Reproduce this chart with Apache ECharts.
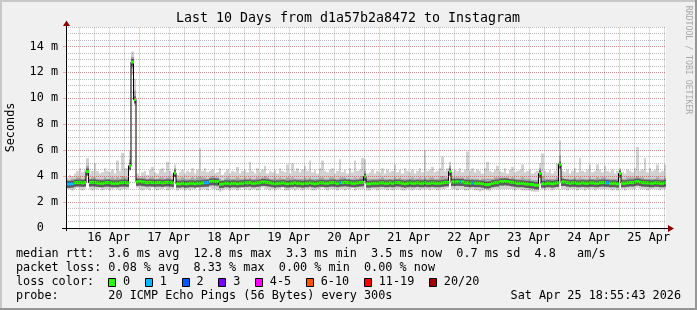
<!DOCTYPE html>
<html><head><meta charset="utf-8">
<script src="https://cdn.jsdelivr.net/npm/echarts@6/dist/echarts.min.js"></script>
<style>html,body{margin:0;padding:0;background:#f0f0f0}#c{width:697px;height:310px}</style>
</head><body><div id="c"></div>
<script>
// ---------- data (hourly samples, 10 days ending Sat Apr 25 18:55:43 2026) ----------
const titleText = 'Last 10 Days from d1a57b2a8472 to Instagram';
const monthNames = ['Jan','Feb','Mar','Apr','May','Jun','Jul','Aug','Sep','Oct','Nov','Dec'];
const endStamp = [2026, 3, 25, 18, 55, 43];
const tickDays = [16, 17, 18, 19, 20, 21, 22, 23, 24, 25];   // day labels (April)
const minorHours = [6, 12, 18];                                // minor grid hours
const yUnitTicks = { zero: '0  ', unit: ' m' };

// median rtt (ms), one value per hour
const median = [
 3.40,3.40,3.42,3.48,3.50,3.50,3.48,3.50,4.35,3.50,3.52,3.50,3.48,3.45,3.45,3.48,3.50,3.48,3.45,3.45,3.45,3.48,3.50,3.50,
 3.48,4.80,12.80,9.90,3.56,3.58,3.55,3.52,3.50,3.52,3.50,3.48,3.50,3.50,3.48,3.50,3.52,3.50,3.48,4.25,3.42,3.42,3.45,3.42,
 3.42,3.45,3.45,3.42,3.45,3.45,3.48,3.48,3.50,3.58,3.60,3.58,3.58,3.38,3.40,3.45,3.45,3.42,3.45,3.45,3.42,3.45,3.45,3.48,
 3.48,3.50,3.45,3.45,3.48,3.50,3.55,3.55,3.52,3.48,3.45,3.42,3.45,3.45,3.48,3.45,3.42,3.45,3.45,3.48,3.45,3.45,3.42,3.45,
 3.45,3.48,3.45,3.42,3.45,3.48,3.48,3.45,3.45,3.48,3.50,3.48,3.45,3.48,3.50,3.52,3.50,3.48,3.45,3.45,3.48,3.50,3.52,3.95,
 3.42,3.42,3.45,3.45,3.45,3.48,3.48,3.45,3.45,3.48,3.45,3.48,3.50,3.48,3.45,3.42,3.45,3.48,3.45,3.45,3.48,3.45,3.45,3.48,
 3.45,3.45,3.48,3.45,3.45,3.45,3.48,3.50,3.52,4.35,3.55,3.55,3.56,3.55,3.55,3.48,3.48,3.45,3.48,3.45,3.45,3.45,3.42,3.35,
 3.35,3.38,3.45,3.48,3.50,3.58,3.58,3.60,3.58,3.55,3.52,3.48,3.45,3.45,3.45,3.42,3.40,3.38,3.35,3.30,3.30,4.20,3.42,3.42,
 3.45,3.45,3.42,3.45,3.48,4.90,3.55,3.55,3.50,3.45,3.48,3.48,3.45,3.45,3.48,3.45,3.45,3.48,3.48,3.45,3.45,3.48,3.50,3.48,
 3.48,3.45,3.45,3.45,3.42,4.20,3.45,3.45,3.48,3.50,3.50,3.55,3.58,3.55,3.50,3.48,3.48,3.45,3.45,3.48,3.48,3.45,3.45,3.48
];
// loss bucket per hour (0 = no loss, 1 = one lost ping)
const lossBucket = [
 1,1,1,0,0,0,0,0,0,0,0,0,0,0,0,0,0,0,0,0,0,0,0,0,
 0,0,0,0,0,0,0,0,0,0,0,0,0,0,0,0,0,0,0,0,0,0,0,0,
 0,0,0,0,0,0,0,1,1,0,0,0,0,0,0,0,0,0,0,0,0,0,0,0,
 0,0,0,0,0,0,0,0,0,0,0,0,0,0,0,0,0,0,0,0,0,0,0,0,
 0,0,0,0,0,0,0,0,0,0,0,0,0,1,0,0,0,0,0,0,0,0,0,0,
 0,0,0,0,0,0,0,0,0,0,0,0,0,0,0,0,0,0,0,0,0,0,0,0,
 0,0,0,0,0,0,0,0,0,0,0,0,0,1,0,0,0,0,1,0,0,0,0,0,
 0,0,0,0,0,0,0,0,0,0,0,0,0,0,0,0,0,0,0,0,0,0,0,0,
 0,0,0,0,0,0,0,0,0,0,0,0,0,0,0,0,0,0,0,0,0,0,0,0,
 1,0,0,0,0,0,0,0,0,0,0,0,0,0,0,0,0,0,0,0,0,0,0,0
];
// smoke: fastest ping, lower spread, upper spread, slowest ping (ms)
const pingMin = [
 3.0,3.0,2.9,3.0,3.1,3.0,2.9,3.0,4.2,3.0,2.9,3.0,3.0,3.1,2.9,3.0,3.0,2.9,3.0,3.1,3.0,2.9,3.0,3.0,
 3.0,4.4,11.8,9.5,3.1,3.0,2.9,3.0,3.0,2.9,3.1,3.0,2.9,3.0,3.0,3.1,2.9,3.0,3.0,4.0,2.9,3.0,3.0,2.9,
 3.0,2.9,3.0,3.0,3.1,2.9,3.0,3.0,2.9,3.1,3.0,3.0,2.9,2.8,2.9,3.0,3.0,2.9,3.0,3.0,2.9,3.0,3.1,3.0,
 3.0,2.9,3.0,3.0,2.9,3.0,3.1,3.0,3.0,2.9,3.0,2.9,3.0,3.0,3.1,2.9,2.9,3.0,3.0,2.9,3.0,3.0,2.9,3.0,
 3.0,3.0,2.9,2.9,3.0,3.0,3.1,3.0,2.9,3.0,3.0,3.0,2.9,3.0,3.0,2.9,3.0,3.0,3.1,2.9,3.0,3.0,3.0,3.7,
 2.9,2.9,3.0,3.0,2.9,3.0,3.0,3.0,2.9,3.0,2.9,3.0,3.0,3.0,2.9,2.9,3.0,3.0,2.9,3.0,3.0,2.9,3.0,3.0,
 3.0,2.9,3.0,3.0,2.9,3.0,3.0,3.0,3.1,4.0,3.0,3.0,2.9,3.0,3.0,2.9,2.9,3.0,3.0,2.9,2.9,2.8,2.9,3.0,
 2.9,2.9,3.0,3.0,3.0,3.0,3.0,3.0,3.0,3.0,3.0,2.9,3.0,3.0,2.9,2.9,2.9,2.9,2.8,2.8,2.8,3.9,3.0,2.9,
 3.0,3.0,2.9,3.0,3.0,4.6,3.0,3.0,2.9,3.0,3.0,3.0,2.9,3.0,3.0,2.9,3.0,3.0,3.0,2.9,3.0,3.0,3.0,3.0,
 3.0,3.0,2.9,3.0,2.9,3.9,3.0,2.9,3.0,3.0,3.0,3.0,3.1,3.0,3.0,3.0,2.9,3.0,3.0,3.0,3.0,2.9,3.0,3.0
];
const pingLow = [
 3.2,3.2,3.2,3.2,3.3,3.2,3.2,3.2,4.25,3.2,3.2,3.2,3.2,3.3,3.2,3.2,3.2,3.2,3.2,3.3,3.2,3.2,3.2,3.2,
 3.2,4.6,12.3,9.7,3.3,3.3,3.2,3.2,3.2,3.2,3.3,3.2,3.2,3.2,3.2,3.3,3.2,3.2,3.2,4.1,3.2,3.2,3.2,3.2,
 3.2,3.2,3.2,3.2,3.3,3.2,3.2,3.2,3.2,3.3,3.3,3.3,3.2,3.1,3.2,3.2,3.2,3.2,3.2,3.2,3.2,3.2,3.3,3.2,
 3.2,3.2,3.2,3.2,3.2,3.2,3.3,3.3,3.2,3.2,3.2,3.2,3.2,3.2,3.3,3.2,3.2,3.2,3.2,3.2,3.2,3.2,3.2,3.2,
 3.2,3.2,3.2,3.2,3.2,3.2,3.3,3.2,3.2,3.2,3.2,3.2,3.2,3.2,3.3,3.2,3.2,3.2,3.3,3.2,3.2,3.2,3.3,3.8,
 3.2,3.2,3.2,3.2,3.2,3.2,3.2,3.2,3.2,3.2,3.2,3.2,3.3,3.2,3.2,3.2,3.2,3.2,3.2,3.2,3.2,3.2,3.2,3.2,
 3.2,3.2,3.2,3.2,3.2,3.2,3.2,3.3,3.3,4.2,3.3,3.3,3.3,3.3,3.3,3.2,3.2,3.2,3.2,3.2,3.2,3.2,3.1,3.1,
 3.1,3.1,3.2,3.2,3.3,3.3,3.3,3.3,3.3,3.3,3.2,3.2,3.2,3.2,3.2,3.2,3.1,3.1,3.1,3.0,3.0,4.05,3.2,3.2,
 3.2,3.2,3.2,3.2,3.2,4.75,3.3,3.3,3.2,3.2,3.2,3.2,3.2,3.2,3.2,3.2,3.2,3.2,3.2,3.2,3.2,3.2,3.3,3.2,
 3.2,3.2,3.2,3.2,3.2,4.05,3.2,3.2,3.2,3.3,3.3,3.3,3.3,3.3,3.2,3.2,3.2,3.2,3.2,3.2,3.2,3.2,3.2,3.2
];
const pingHigh = [
 3.7,3.7,3.8,3.8,3.9,3.9,3.8,3.9,4.8,3.8,3.9,3.9,3.8,3.8,3.8,3.9,3.8,3.8,3.9,3.8,3.9,3.8,4.0,3.9,
 3.9,5.3,13.2,10.6,3.9,3.8,3.9,3.9,3.8,3.9,3.9,3.8,3.8,3.9,3.9,3.8,3.9,3.9,3.8,4.6,3.8,3.8,3.9,3.8,
 3.8,3.8,3.9,3.8,3.9,4.0,3.9,3.9,3.8,3.9,4.0,3.9,3.9,3.8,3.7,3.8,3.9,3.8,3.8,3.8,3.9,3.8,3.8,3.9,
 3.8,3.9,3.8,3.8,3.9,3.8,3.9,4.0,3.9,3.8,3.8,3.9,3.8,3.9,3.8,3.8,3.9,3.8,3.9,3.8,3.8,3.8,3.8,3.9,
 3.8,3.9,3.8,3.8,3.8,3.9,3.9,3.8,3.8,3.9,3.9,3.8,3.8,3.9,3.9,3.9,3.8,3.8,3.8,3.9,3.8,3.9,4.0,4.4,
 3.8,3.8,3.8,3.8,3.8,3.8,3.9,3.8,3.8,3.8,3.8,3.9,3.8,3.9,3.8,3.8,3.8,3.8,3.9,3.8,3.8,3.9,3.8,3.9,
 3.8,3.9,3.9,3.8,3.8,3.9,4.0,3.9,3.9,4.8,3.9,3.9,3.9,3.9,3.9,3.8,3.9,3.8,3.8,3.8,3.8,3.7,3.8,3.8,
 3.8,3.8,3.8,3.9,3.9,3.9,3.9,3.9,3.9,3.8,3.9,3.8,3.8,3.8,3.9,3.8,3.8,3.8,3.7,3.7,3.7,4.6,4.0,3.8,
 3.8,3.8,3.8,3.8,3.9,5.6,3.9,3.8,3.8,3.8,3.8,3.9,3.8,3.9,3.8,3.8,3.8,3.9,3.8,3.8,3.9,3.8,3.9,3.9,
 3.8,3.8,3.8,3.8,3.8,4.5,3.8,3.8,3.9,3.9,3.9,3.9,4.0,3.9,3.9,3.8,3.8,3.8,3.8,3.8,3.9,3.8,3.8,3.9
];
const pingMax = [
 3.9,4.1,4.0,4.2,4.4,4.6,4.3,4.5,5.4,4.2,4.4,5.0,4.4,4.2,4.3,4.6,4.4,4.3,4.5,4.2,5.2,4.4,5.8,4.6,
 4.6,6.0,13.6,11.5,4.2,4.0,4.3,4.4,4.1,4.5,4.7,4.3,4.2,4.5,4.6,4.3,5.1,4.4,4.2,4.9,4.1,4.3,4.5,4.2,
 4.4,4.3,4.6,4.2,4.5,6.15,4.4,4.6,4.3,4.4,4.5,4.2,4.3,4.6,4.1,4.3,4.5,4.2,4.4,4.3,4.7,4.2,4.4,4.5,
 4.3,5.1,4.4,4.2,4.6,4.3,4.5,4.8,4.2,4.4,4.3,4.5,4.2,4.6,4.4,4.3,4.9,4.2,5.0,4.4,4.6,4.3,4.5,4.8,
 4.4,5.2,4.3,4.5,4.2,4.6,5.2,4.4,4.3,4.5,4.6,4.2,4.4,5.3,4.3,4.5,4.2,4.6,4.3,5.2,4.4,4.5,5.4,5.3,
 4.2,4.3,4.5,4.2,4.4,4.3,4.6,4.2,4.5,4.3,4.4,4.9,4.3,4.5,4.2,4.6,4.4,4.3,4.5,4.2,4.4,4.6,4.3,6.0,
 4.4,4.5,4.7,4.3,4.4,4.6,5.5,4.4,4.6,5.1,4.3,4.5,4.4,4.6,4.3,4.5,5.9,4.4,4.6,4.3,4.5,4.4,4.2,4.6,
 5.1,4.4,4.3,4.5,4.8,4.4,4.3,4.6,4.2,4.5,4.7,4.3,4.4,4.5,4.9,4.3,4.4,4.5,4.2,4.3,4.4,5.0,5.75,4.4,
 4.3,4.5,4.2,4.4,5.0,6.75,4.4,4.3,4.5,4.2,4.4,4.6,4.3,5.4,4.4,4.3,4.5,4.9,4.3,4.4,4.9,4.5,4.3,4.8,
 4.4,4.3,4.5,4.2,4.4,4.6,4.3,4.2,4.5,4.4,4.3,4.6,6.25,4.4,4.5,5.4,4.3,4.6,4.4,4.5,4.9,4.3,4.4,4.9
];
// legend
const lossLabels = ['0','1','2','3','4-5','6-10','11-19','20/20'];
const lossColors = ['#26ff00','#00b8ff','#0059ff','#7600ff','#ff00ff','#ff5500','#ff0000','#a10000'];
const statsRtt  = 'median rtt:  3.6 ms avg  12.8 ms max  3.3 ms min  3.5 ms now  0.7 ms sd  4.8   am/s';
const statsLoss = 'packet loss: 0.08 % avg  8.33 % max  0.00 % min  0.00 % now';
const lossColorLabel = 'loss color:';
const probeText = 'probe:       20 ICMP Echo Pings (56 Bytes) every 300s';
const dateText = 'Sat Apr 25 18:55:43 2026';
const watermark = 'RRDTOOL / TOBI OETIKER';

// ---------- chart ----------
const HOUR = 3600000, DAY = 24 * HOUR;
const endTime = new Date(...endStamp).getTime();
const startTime = endTime - 10 * DAY;
const yr = endStamp[0], mo = endStamp[1];
const midnights = tickDays.map(d => new Date(yr, mo, d, 0, 0, 0).getTime());
const noons = tickDays.map(d => new Date(yr, mo, d, 12, 0, 0).getTime());
const minorTimes = [];
[tickDays[0] - 1].concat(tickDays).forEach(d => minorHours.forEach(h => {
  const t = new Date(yr, mo, d, h, 0, 0).getTime();
  if (t > startTime && t < endTime) minorTimes.push(t);
}));
const vGridData = minorTimes.map(t => [t, 0]).concat(midnights.map(t => [t, 1]));

const MONO = '"DejaVu Sans Mono", monospace';
const FS = 11.8;
const FONT = FS + 'px ' + MONO;
const mctx = document.createElement('canvas').getContext('2d');
mctx.font = FONT;
const CH = mctx.measureText('0000000000').width / 10;

const samples = median.map((m, i) => [startTime + i * HOUR, startTime + (i + 1) * HOUR, m,
  pingMin[i], pingLow[i], pingHigh[i], pingMax[i], lossBucket[i]]);
const stepLine = median.map((m, i) => [startTime + i * HOUR, m]);
stepLine.push([endTime, median[median.length - 1]]);

const majorGrid = 'rgba(235,70,70,0.42)';
const minorGrid = 'rgba(0,0,0,0.26)';
const majorGridV = 'rgba(235,70,70,0.26)';
const minorGridV = 'rgba(0,0,0,0.14)';
const dotted = [1, 1];

function xr(api, t) { return Math.round(api.coord([t, 0])[0]); }
function smokeItem(params, api) {
  const xa = xr(api, api.value(0)), xb = xr(api, api.value(1));
  const y = v => api.coord([api.value(0), v])[1];
  const w = xb - xa;
  const band = (lo, hi, fill) => ({ type: 'rect', shape: { x: xa, y: y(hi), width: w, height: y(lo) - y(hi) }, style: { fill } });
  const ym = y(api.value(2));
  return { type: 'group', children: [
    band(api.value(3), api.value(6), '#d2d2d2'),
    band(api.value(4), api.value(5), '#a6a6a6'),
    { type: 'rect', shape: { x: xa, y: ym - 3, width: w, height: 7 }, style: { fill: '#5c5c5c' } }
  ] };
}
function medItem(params, api) {
  const xa = xr(api, api.value(0)), xb = xr(api, api.value(1));
  const ym = api.coord([api.value(0), api.value(2)])[1];
  return { type: 'rect', shape: { x: xa, y: ym - 1.5, width: xb - xa, height: 3 }, style: { fill: lossColors[api.value(7)] } };
}
function vGridItem(params, api) {
  const cs = params.coordSys;
  const x = xr(api, api.value(0));
  return { type: 'rect', shape: { x: x, y: cs.y, width: 1, height: cs.height + 3 },
    style: { fill: api.value(1) ? majorGridV : minorGridV } };
}

const graphics = [
  { type: 'rect', shape: { x: 0, y: 0, width: 697, height: 2 }, style: { fill: '#c8c8c8' }, silent: true },
  { type: 'rect', shape: { x: 0, y: 0, width: 2, height: 310 }, style: { fill: '#c8c8c8' }, silent: true },
  { type: 'rect', shape: { x: 695, y: 0, width: 2, height: 310 }, style: { fill: '#969696' }, silent: true },
  { type: 'rect', shape: { x: 0, y: 308, width: 697, height: 2 }, style: { fill: '#969696' }, silent: true },
  { type: 'text', x: 348, y: 19, style: { text: titleText, font: '13.3px ' + MONO, fill: '#000', align: 'center', verticalAlign: 'middle' } },
  { type: 'text', x: 688, y: 60, rotation: -Math.PI / 2, style: { text: watermark, font: '8.2px ' + MONO, fill: '#a8a8a8', align: 'center', verticalAlign: 'middle' } },
  { type: 'line', shape: { x1: 62, y1: 228.5, x2: 669, y2: 228.5 }, style: { stroke: '#000', lineWidth: 1 }, z: 20 },
  { type: 'line', shape: { x1: 66.5, y1: 231, x2: 66.5, y2: 24 }, style: { stroke: '#000', lineWidth: 1 }, z: 20 },
  { type: 'polygon', shape: { points: [[668, 225], [674, 228.5], [668, 232]] }, style: { fill: '#8b0000' }, z: 21 },
  { type: 'polygon', shape: { points: [[63, 26], [66.5, 20.5], [70, 26]] }, style: { fill: '#8b0000' }, z: 21 },
  { type: 'text', x: 16, y: 254, style: { text: statsRtt, font: FONT, fill: '#000', verticalAlign: 'middle' } },
  { type: 'text', x: 16, y: 268, style: { text: statsLoss, font: FONT, fill: '#000', verticalAlign: 'middle' } },
  { type: 'text', x: 16, y: 282, style: { text: lossColorLabel, font: FONT, fill: '#000', verticalAlign: 'middle' } },
  { type: 'text', x: 16, y: 296, style: { text: probeText, font: FONT, fill: '#000', verticalAlign: 'middle' } },
  { type: 'text', x: 681, y: 296, style: { text: dateText, font: FONT, fill: '#000', align: 'right', verticalAlign: 'middle' } }
];
let bx = 16 + 13 * CH;
lossLabels.forEach((lab, k) => {
  graphics.push({ type: 'rect', shape: { x: Math.round(bx) + 0.5, y: 278.5, width: 7, height: 8 }, style: { fill: lossColors[k], stroke: '#000', lineWidth: 1 } });
  const tx = bx + 14.7;
  graphics.push({ type: 'text', x: tx, y: 282, style: { text: lab, font: FONT, fill: '#000', verticalAlign: 'middle' } });
  bx = tx + lab.length * CH + 14.9;
});

const dayLabel = v => { const d = new Date(v); return d.getDate() + ' ' + monthNames[d.getMonth()]; };

const chart = echarts.init(document.getElementById('c'), null, { renderer: 'canvas' });
chart.setOption({
  animation: false,
  backgroundColor: '#f0f0f0',
  grid: { left: 66, right: 31, top: 27, bottom: 82, show: true, backgroundColor: '#ffffff', borderWidth: 0,
          containLabel: false, outerBoundsMode: 'none' },
  xAxis: {
    type: 'value', min: startTime, max: endTime, z: 10,
    axisLine: { show: false },
    axisTick: { show: false },
    splitLine: { show: false },
    axisLabel: { customValues: noons, formatter: dayLabel, fontFamily: MONO, fontSize: FS, color: '#000', margin: 4, hideOverlap: false }
  },
  yAxis: [{
    type: 'value', min: 0, max: 15.5, interval: 2, z: 10,
    axisLine: { show: false },
    axisTick: { show: true, length: 3, lineStyle: { color: majorGrid } },
    splitLine: { show: true, showMaxLine: false, showMinLine: false, lineStyle: { color: majorGrid, width: 1, type: dotted } },
    axisLabel: { formatter: v => v === 0 ? yUnitTicks.zero : v + yUnitTicks.unit, showMaxLabel: false, margin: 8, fontFamily: MONO, fontSize: FS, color: '#000' },
    name: 'Seconds', nameLocation: 'middle', nameGap: 49, nameTextStyle: { fontFamily: MONO, fontSize: FS, color: '#000' }
  }, {
    type: 'value', min: 0, max: 15.5, interval: 0.5, position: 'left', z: 9,
    axisLine: { show: false }, axisTick: { show: false }, axisLabel: { show: false },
    splitLine: { show: true, showMinLine: false, lineStyle: { color: minorGrid, width: 1, type: dotted } }
  }],
  series: [
    { type: 'custom', name: 'smoke', renderItem: smokeItem, data: samples, encode: { x: [0, 1], y: [3, 6] }, clip: true, z: 1, silent: true },
    { type: 'line', name: 'median', data: stepLine, step: 'end', showSymbol: false, symbol: 'none', lineStyle: { color: '#000', width: 1 }, z: 2, silent: true },
    { type: 'custom', name: 'loss', renderItem: medItem, data: samples, encode: { x: [0, 1], y: 2 }, clip: true, z: 3, silent: true },
    { type: 'custom', name: 'vgrid', renderItem: vGridItem, data: vGridData, encode: { x: 0, y: 1 }, clip: false, z: 5, silent: true }
  ],
  graphic: graphics
});
</script>
</body></html>
